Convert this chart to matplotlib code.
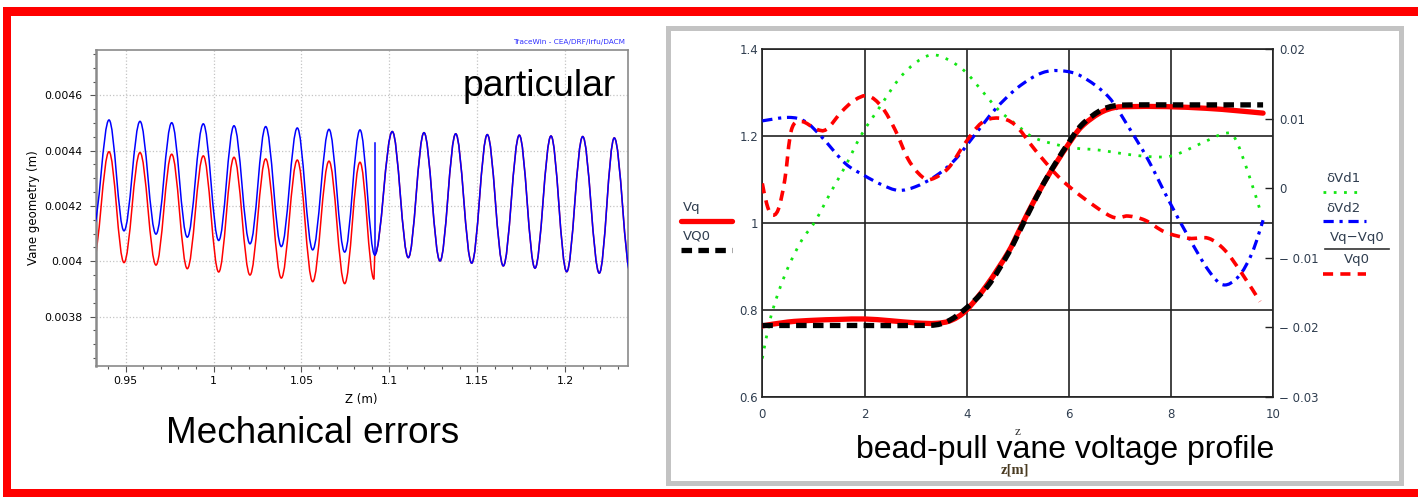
import numpy as np
import matplotlib
matplotlib.use('Agg')
import matplotlib.pyplot as plt
from matplotlib.path import Path
from matplotlib.patches import PathPatch, Rectangle
from matplotlib.lines import Line2D
from matplotlib.ticker import FuncFormatter, MultipleLocator

W, H = 1418, 499

# ---------------- left panel: vane geometry (extrema of the modulation) ----------------
blue_z = [0.9315, 0.94050, 0.94903, 0.95814, 0.96724, 0.97618, 0.98505, 0.99416, 1.00292,
          1.01163, 1.02073, 1.02967, 1.03855, 1.04765, 1.05641, 1.06569, 1.07462, 1.08333,
          1.0917, 1.10171, 1.11082, 1.11975, 1.12886, 1.13779, 1.14689, 1.15577, 1.16488,
          1.17398, 1.18291, 1.19202, 1.20095, 1.21006, 1.21951, 1.22804, 1.2375]
blue_geom = [0.004122, 0.004511, 0.004110, 0.004506, 0.004098, 0.004501, 0.004087, 0.004497, 0.004075,
             0.004490, 0.004063, 0.004487, 0.004053, 0.004482, 0.004041, 0.004477, 0.004033, 0.004475,
             0.004023, 0.004469, 0.004013, 0.004465, 0.004001, 0.004461, 0.003993, 0.004458, 0.003983,
             0.004456, 0.003975, 0.004453, 0.003962, 0.004451, 0.003957, 0.004446, 0.003950]
red_z_head = [0.9315, 0.94050, 0.94903, 0.95814, 0.96724, 0.97618, 0.98505, 0.99416, 1.00292,
              1.01163, 1.02073, 1.02967, 1.03855, 1.04765, 1.05641, 1.06569, 1.07462, 1.08333,
              1.0913]
red_geom_head = [0.004000, 0.004396, 0.003995, 0.004393, 0.003986, 0.004387, 0.003973, 0.004381, 0.003961,
                 0.004376, 0.003950, 0.004370, 0.003939, 0.004366, 0.003926, 0.004362, 0.003919, 0.004358,
                 0.003935]
# after the joint at z~1.092 the red line follows the blue one
red_z = red_z_head + blue_z[18:]
red_geom = red_geom_head + blue_geom[18:]
spike_z = [1.0917, 1.0917]
spike_geom = [0.004023, 0.004427]

# ---------------- right panel: bead-pull profile ----------------
vq_z = [0, 0.5, 1.0, 1.5, 2.0, 2.5, 3.0, 3.4, 3.7, 4.0, 4.4, 4.8, 5.0, 5.2, 5.5, 5.75,
        6.0, 6.25, 6.6, 6.9, 7.2, 7.9, 8.7, 9.25, 9.8]
vq = [0.763, 0.772, 0.776, 0.778, 0.779, 0.775, 0.770, 0.769, 0.776, 0.800, 0.858, 0.930, 0.976,
      1.024, 1.090, 1.138, 1.183, 1.222, 1.253, 1.266, 1.268, 1.268, 1.264, 1.259, 1.253]
vq0_z = [0, 1.0, 2.0, 3.0, 3.5, 3.9, 4.4, 4.8, 5.0, 5.2, 5.5, 5.75, 6.0, 6.25, 6.6, 6.9,
         7.3, 8.0, 9.0, 9.8]
vq0 = [0.764, 0.764, 0.764, 0.764, 0.768, 0.795, 0.853, 0.927, 0.973, 1.021, 1.090, 1.140,
       1.186, 1.226, 1.258, 1.270, 1.272, 1.272, 1.272, 1.272]
d1_z = [0, 0.15, 0.31, 0.51, 0.77, 1.03, 1.36, 1.62, 1.94, 2.30, 2.66, 2.99, 3.31, 3.64, 3.97,
        4.29, 4.62, 5.0, 5.34, 6.0, 6.58, 7.23, 7.75, 8.08, 8.6, 9.05, 9.25, 9.51, 9.76]
d1 = [-0.0245, -0.0190, -0.0151, -0.0113, -0.0075, -0.0048, -0.0003, 0.0031, 0.0077, 0.0117,
      0.0156, 0.0180, 0.0192, 0.0185, 0.0168, 0.0141, 0.0113, 0.0090, 0.0072, 0.0059, 0.0055,
      0.0048, 0.0045, 0.0048, 0.0065, 0.0079, 0.0072, 0.0022, -0.0036]
d2_z = [0, 0.51, 0.84, 1.16, 1.62, 1.98, 2.34, 2.66, 2.99, 3.38, 3.77, 4.16, 4.55, 5.0, 5.47,
        5.86, 6.25, 6.77, 7.16, 7.55, 7.95, 8.34, 8.73, 9.02, 9.32, 9.58, 9.80]
d2 = [0.0097, 0.0102, 0.0096, 0.0074, 0.0036, 0.0019, 0.0005, -0.0003, 0.0002, 0.0017, 0.0041,
      0.0077, 0.0113, 0.0145, 0.0166, 0.0169, 0.0161, 0.0132, 0.0089, 0.0041, -0.0017, -0.0070,
      -0.0118, -0.0139, -0.0127, -0.0094, -0.0046]
dv_z = [0, 0.085, 0.18, 0.31, 0.44, 0.57, 0.77, 1.06, 1.26, 1.55, 1.81, 2.07, 2.34, 2.60, 2.86,
        3.12, 3.31, 3.64, 3.97, 4.29, 4.62, 4.95, 5.34, 5.79, 6.25, 6.84, 7.16, 7.49, 7.88, 8.34,
        8.73, 9.05, 9.38, 9.74]
dv = [0.0007, -0.0022, -0.0038, -0.0031, 0.0012, 0.0084, 0.0096, 0.0085, 0.0085, 0.0110, 0.0127,
      0.0133, 0.0117, 0.0084, 0.0041, 0.0017, 0.0013, 0.0029, 0.0065, 0.0094, 0.0101, 0.0091,
      0.0055, 0.0017, -0.0012, -0.0041, -0.0040, -0.0046, -0.0063, -0.0072, -0.0072, -0.0089,
      -0.0122, -0.0163]


def fx(x):
    return x / W


def fy(y):
    return 1 - y / H


def wave_path(zs, vs, k=0.3642):
    """half-cosine like bezier segments between successive extrema"""
    verts = [(zs[0], vs[0])]
    codes = [Path.MOVETO]
    for i in range(1, len(zs)):
        z0, z1, v0, v1 = zs[i - 1], zs[i], vs[i - 1], vs[i]
        if z1 - z0 < 0.001:
            verts.append((z1, v1))
            codes.append(Path.LINETO)
        else:
            d = k * (z1 - z0)
            verts += [(z0 + d, v0), (z1 - d, v1), (z1, v1)]
            codes += [Path.CURVE4] * 3
    return Path(verts, codes)


def smooth_path(xs, ys):
    """catmull-rom curve through the read points"""
    px = np.concatenate([[xs[0]], xs, [xs[-1]]])
    py = np.concatenate([[ys[0]], ys, [ys[-1]]])
    verts = [(xs[0], ys[0])]
    codes = [Path.MOVETO]
    for i in range(1, len(xs)):
        c1 = (px[i] + (px[i + 1] - px[i - 1]) / 6, py[i] + (py[i + 1] - py[i - 1]) / 6)
        c2 = (px[i + 1] - (px[i + 2] - px[i]) / 6, py[i + 1] - (py[i + 2] - py[i]) / 6)
        verts += [c1, c2, (px[i + 1], py[i + 1])]
        codes += [Path.CURVE4] * 3
    return Path(verts, codes)


def add_rect(x0, y0, x1, y1, **kw):
    fig.add_artist(Rectangle((fx(x0), fy(y1)), (x1 - x0) / W, (y1 - y0) / H,
                             transform=fig.transFigure, **kw))


fig = plt.figure(figsize=(W / 100, H / 100), dpi=100)
fig.patch.set_facecolor('white')

# slide frame
add_rect(3, 7.5, 10.5, 497, color='#ff0000', lw=0)
add_rect(3, 7.5, 1418, 15.5, color='#ff0000', lw=0)
add_rect(3, 489, 1418, 497, color='#ff0000', lw=0)
add_rect(667.5, 27.5, 1400.5, 482.5, fill=False, edgecolor='#c3c3c3', lw=3.6)

# ---------------- left plot ----------------
axL = fig.add_axes([fx(96), fy(366), (627.7 - 96) / W, (366 - 50) / H])
axL.add_patch(PathPatch(wave_path(red_z, red_geom), fill=False, edgecolor='#ff0000', lw=1.1, zorder=2))
axL.add_patch(PathPatch(wave_path(blue_z, blue_geom), fill=False, edgecolor='#0000ff', lw=1.1, zorder=3))
axL.plot(spike_z, spike_geom, color='#0000ff', lw=1.1, zorder=3)
axL.set_xlim(0.9331, 1.23567)
axL.set_ylim(0.003621, 0.004764)
axL.xaxis.set_major_locator(MultipleLocator(0.05))
axL.xaxis.set_minor_locator(MultipleLocator(0.01))
axL.yaxis.set_major_locator(MultipleLocator(0.0002))
axL.yaxis.set_minor_locator(MultipleLocator(0.00005))
fmt = FuncFormatter(lambda v, p: '%g' % round(v, 7))
axL.xaxis.set_major_formatter(fmt)
axL.yaxis.set_major_formatter(fmt)
axL.grid(True, which='major', color='#c4c4c4', linestyle=':', lw=0.9)
axL.set_axisbelow(True)
axL.tick_params(which='major', direction='out', length=4, width=0.8, color='#555555',
                labelsize=7.8, pad=3)
axL.tick_params(which='minor', direction='out', length=2.5, width=0.8, color='#555555')
axL.tick_params(axis='y', which='major', pad=6)
for s in axL.spines.values():
    s.set_color('#8a8a8a')
    s.set_linewidth(1.2)
axL.spines['left'].set_linewidth(1.8)
fig.text(fx(361), fy(400), 'Z (m)', ha='center', va='center', fontsize=8.5)
fig.text(fx(33), fy(208), 'Vane geometry (m)', ha='center', va='center', rotation=90, fontsize=8.5)
fig.text(fx(625), fy(42), 'TraceWin - CEA/DRF/Irfu/DACM', ha='right', va='center',
         fontsize=5.3, color='#3030ff')
fig.text(fx(463), fy(96.5), 'particular', ha='left', va='baseline', fontsize=26.8,
         family='Liberation Sans')
fig.text(fx(166), fy(443), 'Mechanical errors', ha='left', va='baseline', fontsize=26.6,
         family='Liberation Sans')

# ---------------- right plot ----------------
axR = fig.add_axes([fx(762.3), fy(396.7), (1273.3 - 762.3) / W, (396.7 - 49.3) / H])
axR2 = axR.twinx()
axR.set_xlim(0, 10)
axR.set_ylim(0.6, 1.4)
axR2.set_ylim(-0.03, 0.02)

axR.add_patch(PathPatch(smooth_path(d1_z, d1), transform=axR2.transData, fill=False,
                        edgecolor='#14e614', lw=2.0, linestyle=(0, (1, 2.7)), zorder=2))
axR.add_patch(PathPatch(smooth_path(d2_z, d2), transform=axR2.transData, fill=False,
                        edgecolor='#0000ff', lw=2.3, linestyle=(0, (3.2, 1.8, 1, 1.8)), zorder=3))
axR.add_patch(PathPatch(smooth_path(dv_z, dv), transform=axR2.transData, fill=False,
                        edgecolor='#ff0000', lw=2.6, linestyle=(0, (2.8, 2.0)), zorder=4))
axR.add_patch(PathPatch(smooth_path(vq_z, vq), fill=False, edgecolor='#ff0000', lw=3.8,
                        capstyle='round', zorder=5))
axR.add_patch(PathPatch(smooth_path(vq0_z, vq0), fill=False, edgecolor='#000000', lw=3.8,
                        linestyle=(0, (2.0, 1.2)), zorder=6))
axR.set_xlim(0, 10)
axR.set_ylim(0.6, 1.4)

tick_col = '#2f3d4f'
axR.set_xticks([0, 2, 4, 6, 8, 10])
axR.set_yticks([0.6, 0.8, 1.0, 1.2, 1.4])
axR.xaxis.set_major_formatter(FuncFormatter(lambda v, p: '%g' % v))
axR.yaxis.set_major_formatter(FuncFormatter(lambda v, p: '%g' % round(v, 3)))
axR.tick_params(length=0, labelsize=8.5, labelcolor=tick_col)
axR.tick_params(axis='x', pad=8)
axR.tick_params(axis='y', pad=3)
axR.grid(True, color='#222222', lw=1.2)
axR.set_axisbelow(True)
for s in axR.spines.values():
    s.set_color('#222222')
    s.set_linewidth(1.2)
axR2.set_yticks([-0.03, -0.02, -0.01, 0, 0.01, 0.02])


def right_fmt(v, p):
    if abs(v) < 1e-9:
        return '0'
    if v > 0:
        return '%g' % round(v, 4)
    return '\u2212 %g' % round(-v, 4)


axR2.yaxis.set_major_formatter(FuncFormatter(right_fmt))
axR2.tick_params(axis='y', direction='in', length=6, width=1.0, color='#222222',
                 labelsize=8.5, labelcolor=tick_col, pad=4)
for s in axR2.spines.values():
    s.set_visible(False)

# axis labels of the right plot (they sit under the caption, as in the slide)
fig.text(fx(1018), fy(432), 'z', ha='center', va='center', fontsize=9.5,
         family='Liberation Serif', color='#333333')
fig.text(fx(1015), fy(470), 'z[m]', ha='center', va='center', fontsize=10.5,
         family='Liberation Serif', weight='bold', color='#4a3b22')

# legends of the right plot
leg_fs = 9.5
fig.text(fx(683), fy(207), 'Vq', ha='left', va='center', fontsize=leg_fs, color=tick_col)
fig.add_artist(Line2D([fx(681), fx(732)], [fy(220.7)] * 2, transform=fig.transFigure,
                      color='#ff0000', lw=3.8, solid_capstyle='round'))
fig.text(fx(683), fy(236), 'VQ0', ha='left', va='center', fontsize=leg_fs, color=tick_col)
fig.add_artist(Line2D([fx(681), fx(732)], [fy(250)] * 2, transform=fig.transFigure,
                      color='#000000', lw=3.8, linestyle=(0, (2.0, 1.2))))

fig.text(fx(1343), fy(179), '\u03b4Vd1', ha='center', va='center', fontsize=leg_fs, color=tick_col)
fig.add_artist(Line2D([fx(1323), fx(1364)], [fy(191.7)] * 2, transform=fig.transFigure,
                      color='#14e614', lw=2.0, linestyle=(0, (1, 2.7))))
fig.text(fx(1343), fy(208), '\u03b4Vd2', ha='center', va='center', fontsize=leg_fs, color=tick_col)
fig.add_artist(Line2D([fx(1323), fx(1366)], [fy(221)] * 2, transform=fig.transFigure,
                      color='#0000ff', lw=2.3, linestyle=(0, (3.2, 1.8, 1, 1.8))))
fig.text(fx(1357), fy(238), 'Vq\u2212Vq0', ha='center', va='center', fontsize=leg_fs, color=tick_col)
fig.add_artist(Line2D([fx(1325), fx(1389)], [fy(249)] * 2, transform=fig.transFigure,
                      color='#333333', lw=1.2))
fig.text(fx(1357), fy(259), 'Vq0', ha='center', va='center', fontsize=leg_fs, color=tick_col)
fig.add_artist(Line2D([fx(1323), fx(1366)], [fy(274)] * 2, transform=fig.transFigure,
                      color='#ff0000', lw=2.6, linestyle=(0, (2.8, 2.0))))

fig.text(fx(856), fy(458), 'bead-pull vane voltage profile', ha='left', va='baseline',
         fontsize=23, family='Liberation Sans')

fig.savefig('out.png', dpi=100)
